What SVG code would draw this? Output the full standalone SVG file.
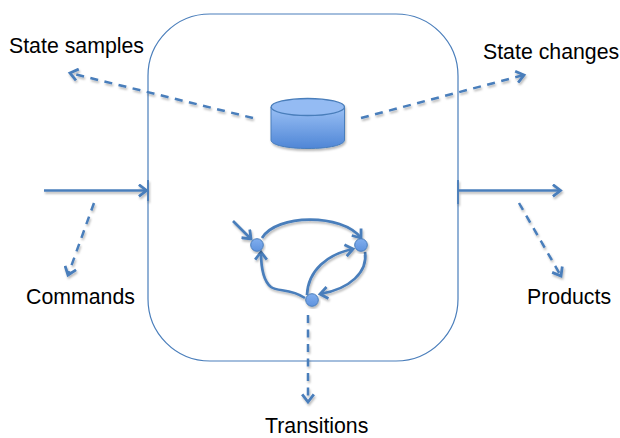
<svg xmlns="http://www.w3.org/2000/svg" width="620" height="438" viewBox="0 0 620 438">
<style>
text{font-family:"Liberation Sans",Arial,sans-serif;font-size:21.3px;fill:#000}
.s,.d,.c{fill:none;stroke:#4a7ebb;stroke-width:2.5}
.s{marker-end:url(#a)}
.d{stroke-dasharray:8 6.5;marker-end:url(#a)}
.c{marker-end:url(#a);stroke-width:2.7}
.n{fill:url(#g2);stroke:#4a7ebb;stroke-width:1}
</style>
<defs>
<marker id="a" markerUnits="userSpaceOnUse" markerWidth="14" markerHeight="14" refX="9.5" refY="6" orient="auto" viewBox="0 0 12 12"><path d="M3 1L9.5 6L3 11" fill="none" stroke="#4a7ebb" stroke-width="2.4"/></marker>
<linearGradient id="g1" x1="0" y1="0" x2="0" y2="1"><stop offset="0" stop-color="#9ac0f5"/><stop offset="1" stop-color="#4f86d6"/></linearGradient>
<linearGradient id="g2" x1="0" y1="0" x2="0" y2="1"><stop offset="0" stop-color="#80aeee"/><stop offset="1" stop-color="#5f93de"/></linearGradient>
<filter id="sh" x="-20%" y="-20%" width="140%" height="140%"><feDropShadow dx="1" dy="2" stdDeviation="1.2" flood-color="#000" flood-opacity="0.28"/></filter>
</defs>
<g id="system"><rect x="148" y="14" width="310" height="347" rx="62" ry="62" fill="#fff" stroke="#4a7ebb" stroke-width="1.2"/></g>
<g id="connectors" filter="url(#sh)">
<path class="d" d="M253 118L70 73"/>
<path class="d" d="M361 118L524 75"/>
<path class="s" d="M44 190.500H146.500"/>
<path class="s" d="M458 190.500H560.500"/>
<path class="d" d="M94 203L68 275"/>
<path class="d" d="M519 203L561 276"/>
<path class="d" d="M308 315V402"/>
<path class="c" d="M233 221L251 239"/>
<path class="c" d="M262 238C276 214 342 213 361 238"/>
<path class="c" d="M305 298C290 288 278 292 271 287C262 280 261 262 261 252"/>
<path class="c" d="M307 295C308 270 328 254 353 249"/>
<path class="c" d="M365 252C368 272 350 289 320 294"/>
<path d="M148 180V201M458 180V204" fill="none" stroke="#4a7ebb" stroke-width="1.8"/>
</g>
<g id="store" filter="url(#sh)">
<path d="M271 107V140C271 145 287 148.500 308 148.500C329 148.500 344.500 145 344.500 140V107Z" fill="url(#g1)" stroke="#4a7ebb"/>
<ellipse cx="307.800" cy="107" rx="36.700" ry="8.500" fill="#94bbf3" stroke="#4a7ebb" stroke-width="1.300"/>
</g>
<g id="state1" filter="url(#sh)"><circle class="n" cx="257" cy="245" r="6.300"/></g>
<g id="state2" filter="url(#sh)"><circle class="n" cx="361" cy="245" r="6.300"/></g>
<g id="state3" filter="url(#sh)"><circle class="n" cx="312" cy="300" r="6.300"/></g>
<g id="labels">
<text x="9" y="53">State samples</text>
<text x="483" y="59">State changes</text>
<text x="26" y="303.500">Commands</text>
<text x="527" y="303.500">Products</text>
<text x="265" y="433">Transitions</text>
</g>
</svg>
